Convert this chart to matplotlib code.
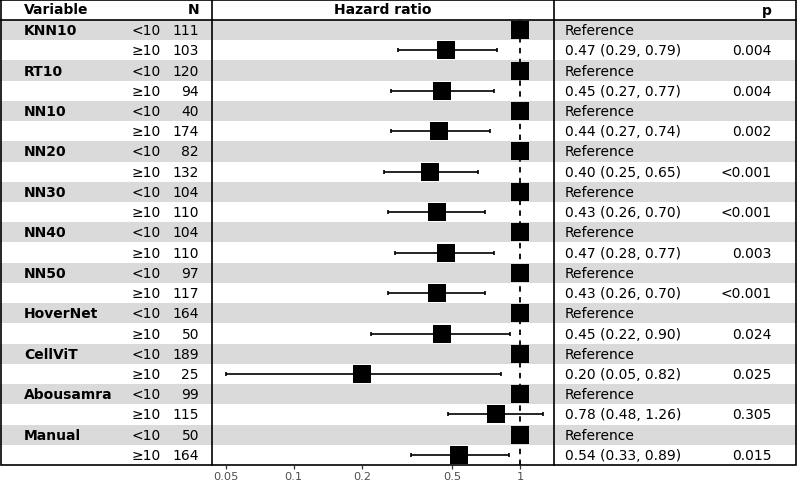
import numpy as np
import matplotlib
matplotlib.use('Agg')
from matplotlib import pyplot as plt

plt.rcParams['font.family'] = ['DejaVu Sans']

# datos del forest plot
variables = ['KNN10', 'RT10', 'NN10', 'NN20', 'NN30', 'NN40', 'NN50',
             'HoverNet', 'CellViT', 'Abousamra', 'Manual']
n_bajo = [111, 120, 40, 82, 104, 104, 97, 164, 189, 99, 50]
n_alto = [103, 94, 174, 132, 110, 110, 117, 50, 25, 115, 164]
hr = [0.47, 0.45, 0.44, 0.40, 0.43, 0.47, 0.43, 0.45, 0.20, 0.78, 0.54]
ic_bajo = [0.29, 0.27, 0.27, 0.25, 0.26, 0.28, 0.26, 0.22, 0.05, 0.48, 0.33]
ic_alto = [0.79, 0.77, 0.74, 0.65, 0.70, 0.77, 0.70, 0.90, 0.82, 1.26, 0.89]
p_valores = ['0.004', '0.004', '0.002', '<0.001', '<0.001', '0.003', '<0.001',
             '0.024', '0.025', '0.305', '0.015']
niveles = ['<10', '\u226510']
ticks_x = [0.05, 0.1, 0.2, 0.5, 1]
ticks_etiquetas = ['0.05', '0.1', '0.2', '0.5', '1']

W, H = 797, 485
top_filas, bottom_filas = 21, 466
x_izq, x_der = 212, 554
n_filas = 2 * len(variables)
alto_fila = (bottom_filas - top_filas) / n_filas
gris = '#dadada'
fs = 10

fig = plt.figure(figsize=(W / 100, H / 100), dpi=100)

# fondo: bandas, marco y textos en coordenadas de pixel
ax = fig.add_axes([0, 0, 1, 1])
ax.set_xlim(0, W)
ax.set_ylim(H, 0)
ax.axis('off')

for i in range(n_filas):
    y0 = top_filas + i * alto_fila
    if i % 2 == 0:
        ax.axhspan(y0, y0 + alto_fila, color=gris, lw=0, zorder=0)

lw = 1.2
ax.plot([0.6, W - 0.8, W - 0.8, 0.6, 0.6], [0.6, 0.6, bottom_filas, bottom_filas, 0.6],
        color='black', lw=lw, solid_joinstyle='miter')
ax.plot([0.6, W - 0.8], [20.5, 20.5], color='black', lw=lw)
ax.plot([x_izq, x_izq], [0.6, bottom_filas], color='black', lw=lw)
ax.plot([x_der, x_der], [0.6, bottom_filas], color='black', lw=lw)

# encabezados
yh = 10.5
ax.text(24, yh, 'Variable', fontsize=fs, fontweight='bold', va='center', ha='left')
ax.text(199, yh, 'N', fontsize=fs, fontweight='bold', va='center', ha='right')
ax.text((x_izq + x_der) / 2, yh, 'Hazard ratio', fontsize=fs, fontweight='bold', va='center', ha='center')
ax.text(772, yh, 'p', fontsize=fs, fontweight='bold', va='center', ha='right')

for k, var in enumerate(variables):
    ya = top_filas + (2 * k + 0.5) * alto_fila
    yb = top_filas + (2 * k + 1.5) * alto_fila
    ax.text(24, ya, var, fontsize=fs, fontweight='bold', va='center', ha='left')
    ax.text(132, ya, niveles[0], fontsize=fs, va='center', ha='left')
    ax.text(132, yb, niveles[1], fontsize=fs, va='center', ha='left')
    ax.text(199, ya, str(n_bajo[k]), fontsize=fs, va='center', ha='right')
    ax.text(199, yb, str(n_alto[k]), fontsize=fs, va='center', ha='right')
    ax.text(565, ya, 'Reference', fontsize=fs, va='center', ha='left')
    ax.text(565, yb, '%.2f (%.2f, %.2f)' % (hr[k], ic_bajo[k], ic_alto[k]),
            fontsize=fs, va='center', ha='left')
    ax.text(772, yb, p_valores[k], fontsize=fs, va='center', ha='right')

# panel del hazard ratio
axp = fig.add_axes([x_izq / W, (H - bottom_filas) / H, (x_der - x_izq) / W,
                    (bottom_filas - top_filas) / H])
axp.patch.set_visible(False)
axp.set_xscale('log')
axp.set_xlim(0.0435, 1.413)
axp.set_ylim(n_filas - 0.5, -0.5)
for s in axp.spines.values():
    s.set_visible(False)
axp.set_yticks([])
axp.set_xticks(ticks_x)
axp.set_xticklabels(ticks_etiquetas)
axp.minorticks_off()
axp.tick_params(axis='x', length=3, width=0.9, color='#333333',
                labelcolor='#4d4d4d', labelsize=8.2, pad=1.2)

axp.axvline(1, color='black', lw=1.3, ls=(0, (3, 3)), zorder=1)

filas_ref = np.arange(len(variables)) * 2
filas_alt = filas_ref + 1
axp.plot(np.ones(len(variables)), filas_ref, 's', color='black', ms=13.3, mew=0, zorder=3)
hr = np.array(hr)
axp.errorbar(hr, filas_alt, xerr=[hr - np.array(ic_bajo), np.array(ic_alto) - hr],
             fmt='none', ecolor='black', elinewidth=1.2, capsize=1.3, capthick=1.2, zorder=2)
axp.plot(hr, filas_alt, 's', color='black', ms=13.3, mew=0, zorder=3)

fig.savefig('out.png', dpi=100)
